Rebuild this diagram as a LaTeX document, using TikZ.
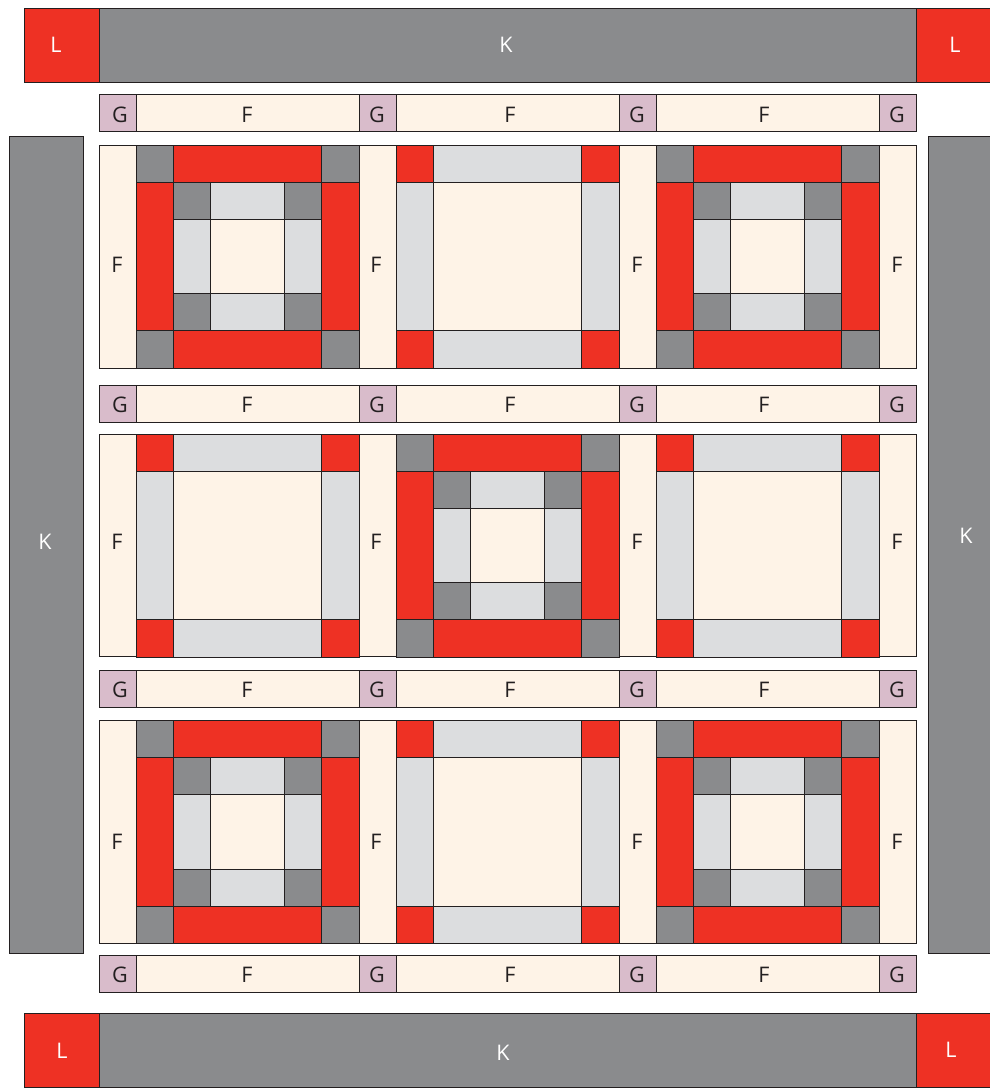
\documentclass[tikz,border=0pt]{standalone}
\usepackage{fontspec}
\setmainfont{Open Sans}
\definecolor{qred}{HTML}{EE3124}
\definecolor{qdark}{HTML}{8A8B8D}
\definecolor{qlight}{HTML}{DCDDDF}
\definecolor{qcream}{HTML}{FEF3E7}
\definecolor{qpink}{HTML}{D9BCCB}
\definecolor{qline}{HTML}{231F20}
\tikzset{
  patch/.style={draw=qline, line width=0.9pt},
  red/.style={patch, fill=qred},
  dark/.style={patch, fill=qdark},
  light/.style={patch, fill=qlight},
  cream/.style={patch, fill=qcream},
  pink/.style={patch, fill=qpink},
  lbl/.style={font=\fontsize{21.5}{21.5}\selectfont, text=qline, inner sep=0pt},
  wlbl/.style={font=\fontsize{21.5}{21.5}\selectfont, text=white, inner sep=0pt}
}
\newcommand{\blockA}[2]{%
  \begin{scope}[shift={(#1,#2)}, x=37.17pt, y=-37.17pt]
    \fill[qcream] (0,0) rectangle (6,6);
    % outer ring
    \draw[dark] (0,0) rectangle (1,1);
    \draw[dark] (5,0) rectangle (6,1);
    \draw[dark] (0,5) rectangle (1,6);
    \draw[dark] (5,5) rectangle (6,6);
    \draw[red] (1,0) rectangle (5,1);
    \draw[red] (1,5) rectangle (5,6);
    \draw[red] (0,1) rectangle (1,5);
    \draw[red] (5,1) rectangle (6,5);
    % inner ring
    \draw[dark] (1,1) rectangle (2,2);
    \draw[dark] (4,1) rectangle (5,2);
    \draw[dark] (1,4) rectangle (2,5);
    \draw[dark] (4,4) rectangle (5,5);
    \draw[light] (2,1) rectangle (4,2);
    \draw[light] (2,4) rectangle (4,5);
    \draw[light] (1,2) rectangle (2,4);
    \draw[light] (4,2) rectangle (5,4);
    \draw[cream] (2,2) rectangle (4,4);
  \end{scope}}
\newcommand{\blockB}[2]{%
  \begin{scope}[shift={(#1,#2)}, x=37.17pt, y=-37.17pt]
    \draw[red] (0,0) rectangle (1,1);
    \draw[red] (5,0) rectangle (6,1);
    \draw[red] (0,5) rectangle (1,6);
    \draw[red] (5,5) rectangle (6,6);
    \draw[light] (1,0) rectangle (5,1);
    \draw[light] (1,5) rectangle (5,6);
    \draw[light] (0,1) rectangle (1,5);
    \draw[light] (5,1) rectangle (6,5);
    \draw[cream] (1,1) rectangle (5,5);
  \end{scope}}
\newcommand{\sashrow}[2]{% y top, y bottom
  \draw[pink] (99,#1) rectangle (136,#2);
  \draw[cream] (136,#1) rectangle (359,#2);
  \draw[pink] (359,#1) rectangle (396,#2);
  \draw[cream] (396,#1) rectangle (619,#2);
  \draw[pink] (619,#1) rectangle (656,#2);
  \draw[cream] (656,#1) rectangle (879,#2);
  \draw[pink] (879,#1) rectangle (916,#2);}
\newcommand{\sashcols}[2]{% y top, y bottom
  \draw[cream] (99,#1) rectangle (136,#2);
  \draw[cream] (359,#1) rectangle (396,#2);
  \draw[cream] (619,#1) rectangle (656,#2);
  \draw[cream] (879,#1) rectangle (916,#2);}
\begin{document}
\begin{tikzpicture}[x=1pt, y=-1pt]
\useasboundingbox[fill=white] (0,0) rectangle (990,1088);
% top border
\draw[red] (24.5,8.5) rectangle (99,82.3);
\draw[dark] (99,8.5) rectangle (916,82.3);
\draw[red] (916,8.5) rectangle (992,82.3);
% bottom border
\draw[red] (24.5,1013) rectangle (99,1087.3);
\draw[dark] (99,1013) rectangle (916,1087.3);
\draw[red] (916,1013) rectangle (992,1087.3);
% side borders
\draw[dark] (9.3,136.3) rectangle (83.3,953.7);
\draw[dark] (928,136.3) rectangle (992,953.7);
% sashing rows
\sashrow{94.5}{131.7}
\sashrow{385}{422}
\sashrow{670}{707.3}
\sashrow{955.3}{992.7}
% vertical sashings
\sashcols{145}{368}
\sashcols{434}{656.7}
\sashcols{720.5}{943.3}
% blocks
\blockA{136}{145}
\blockB{396}{145}
\blockA{656}{145}
\blockB{136}{434}
\blockA{396}{434}
\blockB{656}{434}
\blockA{136}{720.5}
\blockB{396}{720.5}
\blockA{656}{720.5}
% border labels
\node[wlbl] (l1) at (56,45) {L};
\node[wlbl] (k1) at (506,45) {K};
\node[wlbl] (l2) at (955,45) {L};
\node[wlbl] (l3) at (62,1051) {L};
\node[wlbl] (k2) at (503,1053) {K};
\node[wlbl] (l4) at (951,1050) {L};
\node[wlbl] (k3) at (45,542) {K};
\node[wlbl] (k4) at (966,536) {K};
% sashing row labels
\foreach \yy/\n in {115/1,405/2,690/3,975/4}{
  \node[lbl] (g\n a) at (120,\yy) {G};
  \node[lbl] (f\n a) at (247,\yy) {F};
  \node[lbl] (g\n b) at (377,\yy) {G};
  \node[lbl] (f\n b) at (510,\yy) {F};
  \node[lbl] (g\n c) at (637,\yy) {G};
  \node[lbl] (f\n c) at (764,\yy) {F};
  \node[lbl] (g\n d) at (897,\yy) {G};
}
% vertical sashing labels
\foreach \yy/\n in {265/1,542/2,842/3}{
  \node[lbl] (v\n a) at (117,\yy) {F};
  \node[lbl] (v\n b) at (376,\yy) {F};
  \node[lbl] (v\n c) at (637,\yy) {F};
  \node[lbl] (v\n d) at (897,\yy) {F};
}
\end{tikzpicture}
\end{document}
